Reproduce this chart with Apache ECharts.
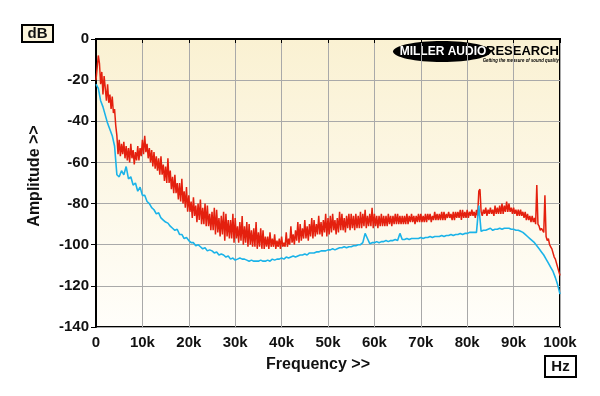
<!DOCTYPE html>
<html><head><meta charset="utf-8">
<script src="https://cdn.jsdelivr.net/npm/echarts@6/dist/echarts.min.js"></script>
<style>html,body{margin:0;padding:0;background:#fff}#c{width:600px;height:396px}</style>
</head><body><div id="c"></div>
<script>
// Sample spacing of each trace (kHz)
const RED_STEP_KHZ = 0.25;
const CYAN_STEP_KHZ = 0.5;
const xTickLabels = ['0','10k','20k','30k','40k','50k','60k','70k','80k','90k','100k'];
const yTickValues = [0,-20,-40,-60,-80,-100,-120,-140];

// Red trace (dB), one value per 0.25 kHz from 0 to 100 kHz (4 values per kHz)
const redDB = [
-20,-14,-8,-12,   -22,-16,-27,-18,   -24,-30,-22,-31,   -27,-34,-28,-36,   -34,-42,-47,-56,
-49,-57,-51,-56,   -50,-58,-52,-59,   -53,-60,-51,-58,   -54,-61,-55,-59,   -52,-59,-53,-57,
-49,-56,-47,-55,   -51,-58,-53,-60,   -54,-62,-55,-63,   -57,-64,-58,-66,   -57,-66,-61,-69,
-62,-70,-58,-70,   -64,-73,-67,-75,   -66,-75,-70,-78,   -70,-79,-68,-80,   -74,-82,-72,-84,
-76,-84,-79,-87,   -77,-86,-81,-89,   -80,-88,-78,-90,   -82,-90,-80,-91,   -81,-91,-85,-93,
-84,-93,-82,-95,   -83,-94,-87,-96,   -86,-95,-84,-98,   -85,-96,-88,-97,   -88,-97,-85,-99,
-87,-97,-91,-99,   -89,-98,-86,-100,  -91,-99,-89,-101,  -90,-100,-93,-101, -92,-101,-89,-102,
-94,-101,-92,-102, -93,-102,-96,-101, -96,-102,-94,-101, -97,-101,-95,-102, -98,-101,-97,-102,
-96,-101,-99,-101, -94,-101,-97,-100, -91,-99,-95,-100,  -93,-98,-89,-99,   -90,-98,-92,-97,
-88,-97,-91,-98,   -90,-96,-87,-97,   -88,-96,-90,-95,   -86,-95,-89,-96,   -88,-94,-85,-96,
-87,-95,-86,-94,   -85,-93,-88,-95,   -87,-94,-84,-93,   -85,-93,-87,-94,   -86,-92,-85,-93,
-85,-92,-86,-93,   -85,-92,-86,-92,   -84,-92,-85,-91,   -83,-92,-86,-91,   -85,-91,-82,-92,
-85,-91,-86,-92,   -86,-91,-85,-91,   -86,-91,-86,-91,   -85,-90,-86,-91,   -86,-90,-85,-90,
-85,-90,-86,-90,   -86,-90,-86,-90,   -85,-90,-86,-89,   -85,-89,-86,-90,   -86,-89,-85,-89,
-85,-89,-86,-89,   -85,-89,-85,-88,   -85,-89,-86,-88,   -84,-88,-85,-88,   -85,-88,-84,-88,
-84,-88,-85,-87,   -84,-87,-85,-88,   -84,-88,-84,-87,   -84,-87,-83,-88,   -83,-87,-84,-87,
-83,-87,-84,-86,   -83,-86,-84,-87,   -83,-86,-74,-73,   -84,-86,-83,-85,   -82,-86,-83,-85,
-82,-85,-83,-86,   -81,-85,-82,-85,   -81,-85,-80,-85,   -81,-84,-79,-84,   -80,-84,-82,-85,
-82,-85,-83,-86,   -83,-86,-83,-86,   -84,-87,-84,-88,   -85,-88,-86,-89,   -86,-89,-87,-90,
-71,-90,-91,-93,   -92,-93,-94,-76,   -96,-98,-97,-100,  -101,-102,-104,-106, -107,-109,-111,-113,
-115
];

// Cyan trace (dB), one value per 0.5 kHz from 0 to 100 kHz
const cyanDB = [
-22,-24,-30,-33,-37,-41,-44,-47,-52,-66,
-67,-64,-66,-62,-68,-67,-71,-70,-74,-72,
-76,-76,-79,-80,-82,-83,-85,-84.5,-87,-88,
-89,-89.5,-91,-92,-93,-92.5,-95,-95,-97,-96.5,
-98,-99,-99,-100.5,-100,-101,-102,-101.5,-103,-102.5,
-103,-104,-103.5,-105,-104.5,-105,-106,-105.5,-107,-106.5,
-107.5,-107,-106.5,-107,-107,-107.5,-108,-107.5,-108,-108,
-108,-107.5,-108,-108,-107.5,-108,-107,-107.5,-107,-107,
-106.5,-107,-106,-106.5,-106,-105.5,-106,-105.5,-105,-105,
-104.5,-105,-104,-104,-104,-103.5,-103.5,-103,-103,-103,
-102.5,-102.5,-102,-102.5,-102,-101.5,-101.5,-101,-101.5,-101,
-101,-100.5,-100.5,-100,-100,-99,-94.5,-97,-99.5,-99,
-99,-98.5,-99,-98.5,-98.5,-98,-98.5,-98,-98,-97.5,
-98,-94.5,-97.5,-97.5,-97,-97.5,-97,-97,-97,-97,
-96.5,-97,-96.5,-96.5,-96,-96.5,-96,-96,-96,-95.5,
-96,-95.5,-95.5,-95,-95.5,-95,-95,-94.5,-95,-94.5,
-94.5,-94,-94,-94,-94,-81,-93.5,-93,-93,-92.5,
-92,-93,-92.5,-92.5,-92,-92.5,-92,-92,-92,-92.5,
-92.5,-93,-93,-93.5,-94,-95,-96,-97,-98,-99,
-100.5,-102,-103.5,-105,-107,-109,-111,-113,-116,-119.5,
-124
];

const toPairs = (arr, step) => arr.map((v, i) => [i * step, v]);

const FONT = '"Liberation Sans", Arial, sans-serif';
const chart = echarts.init(document.getElementById('c'), null, {renderer: 'canvas'});
chart.setOption({
  animation: false,
  backgroundColor: '#ffffff',
  grid: {
    left: 96, right: 40, top: 39, bottom: 69,
    show: true,
    borderColor: '#000', borderWidth: 2,
    backgroundColor: {
      type: 'linear', x: 0, y: 0, x2: 0, y2: 1,
      colorStops: [{offset: 0, color: '#FAF1D2'}, {offset: 1, color: '#FFFEFA'}]
    }
  },
  xAxis: {
    type: 'value', min: 0, max: 100, interval: 10,
    axisLine: {show: true, lineStyle: {color: '#000', width: 2}},
    axisTick: {show: true, length: 4, lineStyle: {color: '#000', width: 1}},
    splitLine: {show: true, lineStyle: {color: '#A9A9A9', width: 1}},
    axisLabel: {
      margin: 8, color: '#111', fontFamily: FONT, fontWeight: 'bold', fontSize: 15,
      formatter: v => xTickLabels[Math.round(v / 10)]
    }
  },
  yAxis: {
    type: 'value', min: -140, max: 0, interval: 20,
    axisLine: {show: true, lineStyle: {color: '#000', width: 2}},
    axisTick: {show: true, length: 5, lineStyle: {color: '#000', width: 1}},
    splitLine: {show: true, lineStyle: {color: '#A9A9A9', width: 1}},
    axisLabel: {
      margin: 7, color: '#111', fontFamily: FONT, fontWeight: 'bold', fontSize: 15,
      formatter: v => String(yTickValues.find(t => t === v) ?? v)
    }
  },
  series: [
    {type: 'line', data: toPairs(redDB, RED_STEP_KHZ), showSymbol: false, symbol: 'none',
     lineStyle: {color: '#E4200E', width: 1.5}, z: 2},
    {type: 'line', data: toPairs(cyanDB, CYAN_STEP_KHZ), showSymbol: false, symbol: 'none',
     lineStyle: {color: '#1BB3E8', width: 1.6}, z: 3}
  ],
  graphic: [
    {type: 'rect', shape: {x: 22, y: 25, width: 31, height: 17},
     style: {fill: '#FCF5DC', stroke: '#000', lineWidth: 2}},
    {type: 'text', x: 37.5, y: 33.5,
     style: {text: 'dB', fill: '#111', font: 'bold 15px ' + FONT, align: 'center', verticalAlign: 'middle'}},
    {type: 'rect', shape: {x: 545, y: 356, width: 31, height: 21},
     style: {fill: '#ffffff', stroke: '#000', lineWidth: 2}},
    {type: 'text', x: 560.5, y: 366.5,
     style: {text: 'Hz', fill: '#111', font: 'bold 15px ' + FONT, align: 'center', verticalAlign: 'middle'}},
    {type: 'text', x: 318, y: 365,
     style: {text: 'Frequency >>', fill: '#111', font: 'bold 16px ' + FONT, align: 'center', verticalAlign: 'middle'}},
    {type: 'text', x: 35, y: 176, rotation: Math.PI / 2,
     style: {text: 'Amplitude >>', fill: '#111', font: 'bold 16px ' + FONT, align: 'center', verticalAlign: 'middle'}},
    {type: 'ellipse', shape: {cx: 442, cy: 51.5, rx: 49, ry: 10.5}, style: {fill: '#000'}},
    {type: 'text', x: 443, y: 52,
     style: {text: 'MILLER AUDIO', fill: '#fff', font: 'bold 12px ' + FONT, align: 'center', verticalAlign: 'middle'}},
    {type: 'text', x: 559, y: 51.5,
     style: {text: 'RESEARCH', fill: '#000', font: 'bold 13px ' + FONT, align: 'right', verticalAlign: 'middle'}},
    {type: 'text', x: 559, y: 60.5, scaleX: 0.72,
     style: {text: 'Getting the measure of sound quality', fill: '#000', font: 'italic bold 6px ' + FONT, align: 'right', verticalAlign: 'middle'}}
  ]
});
</script>
</body></html>
